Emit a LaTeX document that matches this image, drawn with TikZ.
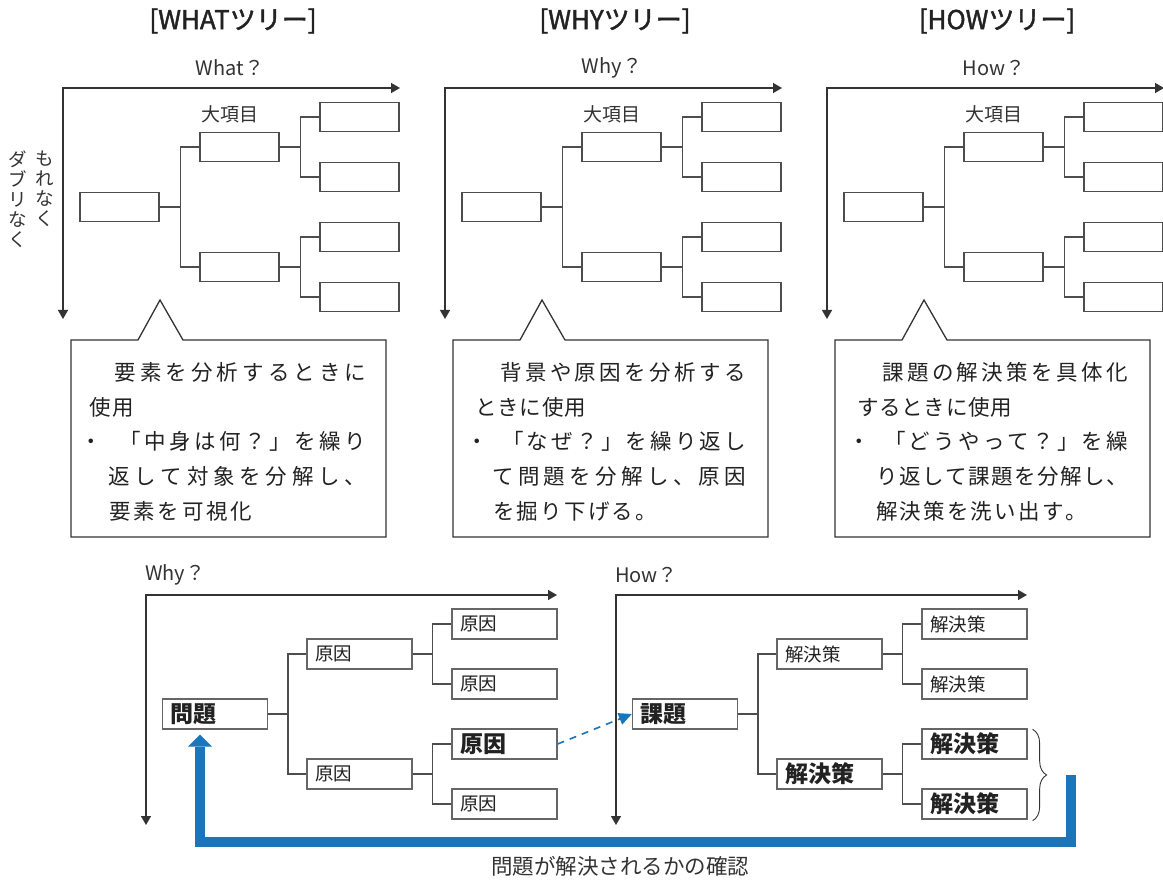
\documentclass[tikz,border=0pt]{standalone}
\usepackage{fontspec}
\setmainfont{Noto Sans CJK JP}
\newfontfamily\titlefont[FakeBold=1.6]{Noto Sans CJK JP}
\usetikzlibrary{arrows.meta,decorations.pathreplacing,calc}
\definecolor{ink}{HTML}{222222}
\definecolor{axc}{HTML}{333333}
\definecolor{boxc}{HTML}{4D4D4D}
\definecolor{boxd}{HTML}{666666}
\definecolor{bluec}{HTML}{1A75BB}

\makeatletter
\def\spr@end{\spr@end}
\newcommand\spr[2]{\makebox[#1][s]{\spr@a#2\spr@end}}
\def\spr@a#1{#1\futurelet\spr@next\spr@b}
\def\spr@b{\ifx\spr@next\spr@end\expandafter\@gobble\else\hfil\expandafter\spr@a\fi}
\makeatother
\newcommand\dotbox[1]{\makebox[#1][l]{\hspace*{-9pt}・}}

\tikzset{
  title/.style={font=\fontsize{26}{28}\selectfont\titlefont, text=ink, inner sep=0},
  axlabel/.style={font=\fontsize{20}{22}\selectfont, text=axc, inner sep=0},
  lab/.style={font=\fontsize{19}{21}\selectfont, text=axc, inner sep=0},
  axis/.style={draw=axc, line width=1.4pt, arrows={Triangle[length=9pt,width=10pt]-Triangle[length=9pt,width=10pt]}},
  tbox/.style={draw=boxc, line width=1.3pt, minimum width=79pt, minimum height=29pt, inner sep=0},
  conn/.style={draw=boxc, line width=1.5pt},
  callout/.style={draw=axc, fill=white, line width=1.3pt, line join=miter},
  ctext/.style={font=\fontsize{21.5}{21}\selectfont, text=ink, inner sep=0, anchor=west},
  bbox/.style={draw=boxd, line width=1.3pt, minimum height=30pt, text width=89pt, inner xsep=8pt, inner ysep=0, align=left, text=ink, font=\fontsize{18.5}{20}\selectfont},
  bold/.style={font=\fontsize{23}{24}\selectfont\bfseries},
  vt/.style={font=\fontsize{18.5}{20}\selectfont, align=center, inner sep=0, text=axc, anchor=north},
}

\begin{document}
\begin{tikzpicture}[x=1pt,y=-1pt]
\fill[white] (0,0) rectangle (1163,882);
\useasboundingbox (0,0) rectangle (1163,882);

% ---------- top trees ----------
\foreach \o/\n/\ttl/\q in {0/a/WHAT/What,382/b/WHY/Why,764/c/HOW/How}{
  \node[title] (t\n) at (233+\o,21) {[\ttl ツリー]};
  \node[axlabel] (q\n) at (230+\o,68) {\q？};
  \draw[axis] (63+\o,319) -- (63+\o,88) -- (400+\o,88);
  \node[tbox] (r\n) at (119.5+\o,207) {};
  \node[tbox] (m\n1) at (239.5+\o,147) {};
  \node[tbox] (m\n2) at (239.5+\o,267) {};
  \node[tbox] (l\n1) at (359.5+\o,117) {};
  \node[tbox] (l\n2) at (359.5+\o,177) {};
  \node[tbox] (l\n3) at (359.5+\o,237) {};
  \node[tbox] (l\n4) at (359.5+\o,297) {};
  \node[lab] (d\n) at (230+\o,114) {大項目};
  \draw[conn] (r\n.east) -- ++(21,0) |- (m\n1.west);
  \draw[conn] (r\n.east) -- ++(21,0) |- (m\n2.west);
  \draw[conn] (m\n1.east) -- ++(21,0) |- (l\n1.west);
  \draw[conn] (m\n1.east) -- ++(21,0) |- (l\n2.west);
  \draw[conn] (m\n2.east) -- ++(21,0) |- (l\n3.west);
  \draw[conn] (m\n2.east) -- ++(21,0) |- (l\n4.west);
  \draw[callout] (71+\o,340) -- (138+\o,340) -- (160+\o,300) -- (183+\o,340) -- (386+\o,340) -- (386+\o,537) -- (71+\o,537) -- cycle;
}

% vertical text
\node[vt] (vt1) at (45,151) {も\\れ\\な\\く};
\node[vt] (vt2) at (18,151) {ダ\\ブ\\リ\\な\\く};

% ---------- callout texts ----------
% WHAT
\node[ctext] (wa1) at (89,372) {\spr{277pt}{　要素を分析するときに}};
\node[ctext] (wa2) at (89,407) {\spr{45pt}{使用}};
\node[ctext] (wa3) at (89,441) {\dotbox{30pt}\spr{247pt}{「中身は何？」を繰り}};
\node[ctext] (wa4) at (108,476) {\spr{258pt}{返して対象を分解し、}};
\node[ctext] (wa5) at (109,511) {\spr{143pt}{要素を可視化}};
% WHY
\node[ctext] (wb1) at (475,372) {\spr{271pt}{　背景や原因を分析する}};
\node[ctext] (wb2) at (475,407) {\spr{111pt}{ときに使用}};
\node[ctext] (wb3) at (475,441) {\dotbox{27pt}\spr{244pt}{「なぜ？」を繰り返し}};
\node[ctext] (wb4) at (492,476) {\spr{254pt}{て問題を分解し、原因}};
\node[ctext] (wb5) at (493,511) {\spr{164pt}{を掘り下げる。}};
% HOW
\node[ctext] (wc1) at (857,372) {\spr{271pt}{　課題の解決策を具体化}};
\node[ctext] (wc2) at (857,407) {\spr{155pt}{するときに使用}};
\node[ctext] (wc3) at (857,441) {\dotbox{27pt}\spr{244pt}{「どうやって？」を繰}};
\node[ctext] (wc4) at (876,476) {\spr{252pt}{り返して課題を分解し、}};
\node[ctext] (wc5) at (876,511) {\spr{211pt}{解決策を洗い出す。}};

% ---------- bottom WHY tree ----------
\node[axlabel, anchor=west] (qw) at (145,575) {Why？};
\draw[axis] (146,825) -- (146,595) -- (557,595);
\node[bbox, bold] (p) at (215,714) {問題};
\node[bbox] (gm1) at (359.5,654) {原因};
\node[bbox] (gm2) at (359.5,774) {原因};
\node[bbox] (gl1) at (504.5,624) {原因};
\node[bbox] (gl2) at (504.5,684) {原因};
\node[bbox, bold] (gl3) at (504.5,744) {原因};
\node[bbox] (gl4) at (504.5,804) {原因};
\draw[conn] (p.east) -- ++(20,0) |- (gm1.west);
\draw[conn] (p.east) -- ++(20,0) |- (gm2.west);
\draw[conn] (gm1.east) -- ++(20,0) |- (gl1.west);
\draw[conn] (gm1.east) -- ++(20,0) |- (gl2.west);
\draw[conn] (gm2.east) -- ++(20,0) |- (gl3.west);
\draw[conn] (gm2.east) -- ++(20,0) |- (gl4.west);

% ---------- bottom HOW tree ----------
\node[axlabel, anchor=west] (qh) at (615,575) {How？};
\draw[axis] (616,825) -- (616,595) -- (1027,595);
\node[bbox, bold] (kd) at (685,714) {課題};
\node[bbox] (hm1) at (829.5,654) {解決策};
\node[bbox, bold] (hm2) at (829.5,774) {解決策};
\node[bbox] (hl1) at (974.5,624) {解決策};
\node[bbox] (hl2) at (974.5,684) {解決策};
\node[bbox, bold] (hl3) at (974.5,744) {解決策};
\node[bbox, bold] (hl4) at (974.5,804) {解決策};
\draw[conn] (kd.east) -- ++(20,0) |- (hm1.west);
\draw[conn] (kd.east) -- ++(20,0) |- (hm2.west);
\draw[conn] (hm1.east) -- ++(20,0) |- (hl1.west);
\draw[conn] (hm1.east) -- ++(20,0) |- (hl2.west);
\draw[conn] (hm2.east) -- ++(20,0) |- (hl3.west);
\draw[conn] (hm2.east) -- ++(20,0) |- (hl4.west);

% brace
\draw[draw=axc, line width=0.9pt, decorate, decoration={brace, amplitude=14pt}]
  ($(hl3.north east)+(5,1)$) -- ($(hl4.south east)+(5,1)$);

% dashed link
\draw[bluec, line width=1.6pt, dash pattern=on 7pt off 6pt, -{Triangle[length=13pt,width=12pt]}] (gl3.east) -- (kd.west);

% feedback arrow
\coordinate (fb) at (1071,775);
\draw[bluec, line width=10pt, line join=miter] (fb) -- (1071,842) -| ($(p.south)+(-15,17)$);
\fill[bluec] ($(p.south)+(-27,17)$) -- ($(p.south)+(-15,5)$) -- ($(p.south)+(-3,17)$) -- cycle;
\node[font=\fontsize{21.5}{22}\selectfont, text=axc, inner sep=0] (chk) at (620,866) {問題が解決されるかの確認};
\end{tikzpicture}
\end{document}
